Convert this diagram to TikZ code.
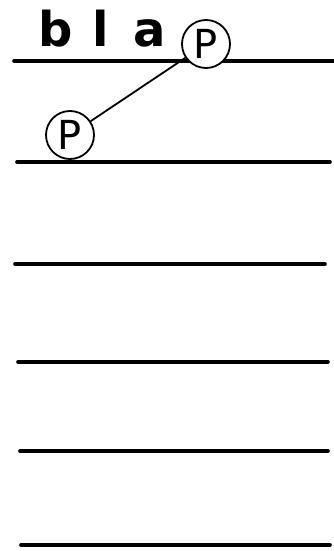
\documentclass[tikz,border=0pt]{standalone}
\usepackage{fontspec}
\setmainfont{DejaVu Sans}
\usetikzlibrary{positioning}
\tikzset{
  rule/.style={line width=3.6pt,line cap=round},
  pin/.style={draw,circle,line width=1.8pt,minimum size=48pt,inner sep=0pt,
    font=\fontsize{40}{40}\selectfont},
  link/.style={line width=1.8pt},
  word/.style={font=\fontsize{48}{48}\selectfont\bfseries,anchor=base west,inner sep=0pt},
}
\begin{document}
\begin{tikzpicture}[x=1pt,y=-1pt]
  \useasboundingbox (0,0) rectangle (334,551);
  % ruled lines
  \foreach \y/\a/\b in {61/14/334,162/17/330,264/15/325,362/18/328,451/20/328,545/21/330}
    \draw[rule] (\a,\y) -- (\b,\y);
  % heading
  \node[word] (title) at (38,47) {b\hspace{20pt}l\hspace{24pt}a};
  % the two marks and their link
  \node[pin,fill=white] (pTop) at (206,44) {P};
  \node[pin,fill=white] (pBot) at (70,135) {P};
  \draw[link] (pBot) -- (pTop);
\end{tikzpicture}
\end{document}
